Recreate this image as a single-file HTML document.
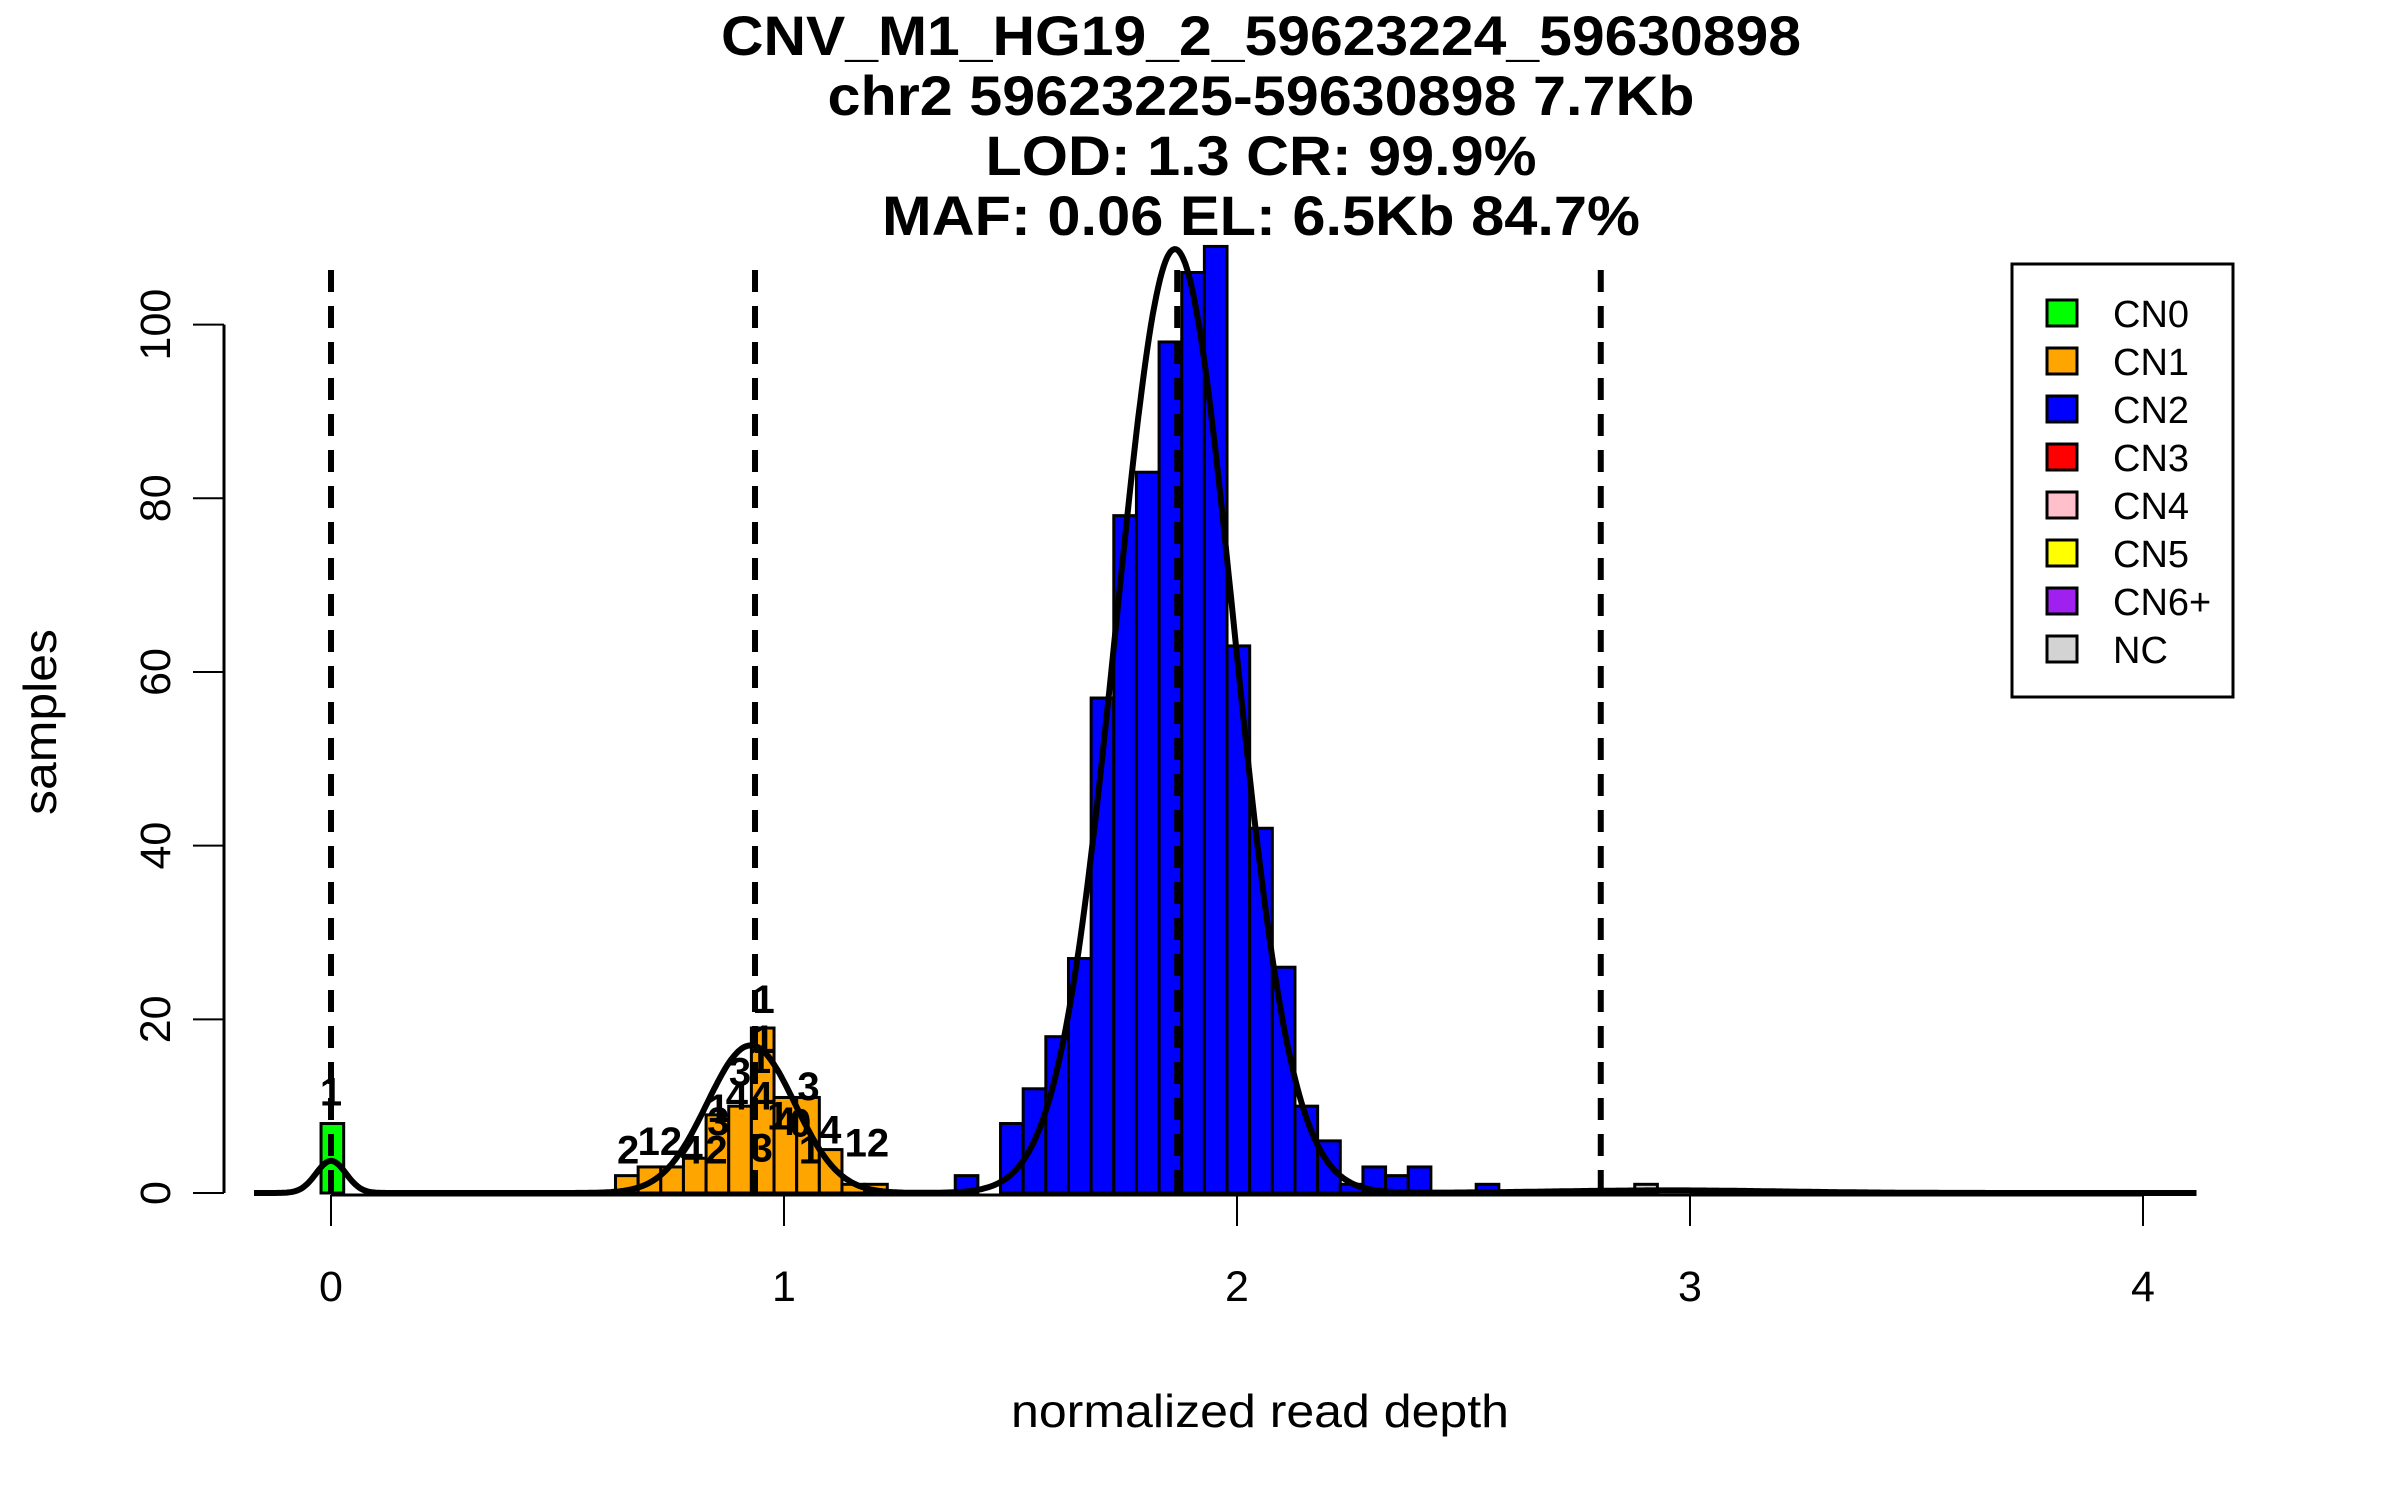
<!DOCTYPE html>
<html><head><meta charset="utf-8"><style>
html,body{margin:0;padding:0;background:#fff;}
svg{display:block;}
text{font-family:"Liberation Sans",sans-serif;}
</style></head>
<body>
<svg id="chart" xmlns="http://www.w3.org/2000/svg" width="2400" height="1500" viewBox="0 0 2400 1500">
<rect width="2400" height="1500" fill="#fff"/>
<g font-weight="bold" font-size="56" text-anchor="middle" fill="#000">
<text x="1261" y="55" textLength="1080" lengthAdjust="spacingAndGlyphs">CNV_M1_HG19_2_59623224_59630898</text>
<text x="1261" y="115" textLength="867" lengthAdjust="spacingAndGlyphs">chr2 59623225-59630898 7.7Kb</text>
<text x="1261" y="175" textLength="551" lengthAdjust="spacingAndGlyphs">LOD: 1.3 CR: 99.9%</text>
<text x="1261" y="235" textLength="758" lengthAdjust="spacingAndGlyphs">MAF: 0.06 EL: 6.5Kb 84.7%</text>
</g>
<g id="bars"></g>
<g id="labels" font-weight="bold" font-size="40" text-anchor="middle" fill="#000"></g>
<g id="curves"></g>
<g id="dashes"></g>
<g id="axes"></g>
<text x="1260" y="1427" font-size="46" text-anchor="middle" textLength="498" lengthAdjust="spacingAndGlyphs">normalized read depth</text>
<text x="0" y="0" font-size="46" text-anchor="middle" transform="translate(56,722) rotate(-90)" textLength="186" lengthAdjust="spacingAndGlyphs">samples</text>
<g id="legend">
<rect x="2012" y="264" width="221" height="433" fill="#fff" stroke="#000" stroke-width="3"/>
</g>
</svg>
<script>
// ---- data ----
const binOrigin = -0.022;
const binWidth = 0.05;
const cn0Counts = [8];
const cn0Start = 0;
const cn1Counts = [2,3,3,4,9,10,19,11,11,5,1,1];
const cn1Start = 13;
const cn2Counts = [2,0,8,12,18,27,57,78,83,98,106,109,63,42,26,10,6,1,3,2,3,0,0,1];
const cn2Start = 28;
const ncCounts = [1];
const ncStart = 58;
const curveMeans = [0, 0.927, 1.863, 2.95];
const curveSds = [0.033, 0.097, 0.129, 0.25];
const curvePeaks = [3.7, 17, 108.7, 0.3];
const cnMeans = [0, 0.936, 1.868, 2.803];
const xTicks = [0,1,2,3,4];
const yTicks = [0,20,40,60,80,100];
const legendLabels = ["CN0","CN1","CN2","CN3","CN4","CN5","CN6+","NC"];
const legendColors = ["#00ff00","#ffa500","#0000ff","#ff0000","#ffc0cb","#ffff00","#a020f0","#d3d3d3"];
const sampleLabels = ["2","12","4","2","3","1","3","1","1","4","4","1","3","1","4","0","3","4","1","12","1"];
const sampleLabelX = [0.656,0.726,0.796,0.851,0.855,0.855,0.903,0.947,0.955,0.896,0.951,0.955,0.951,0.987,1.002,1.036,1.054,1.102,1.057,1.183,0.0];
const sampleLabelY = [3.4,4.4,3.4,3.4,6.7,8.2,12.4,13.8,16.1,9.6,9.6,20.7,3.6,7.3,6.7,6.5,10.7,5.7,3.4,4.2,10.1];

// ---- scales ----
const xs = v => 331 + 453 * v;
const ys = n => 1193 - 8.684 * n;
const NS = "http://www.w3.org/2000/svg";
function mk(tag, attrs, parent){
  const e = document.createElementNS(NS, tag);
  for (const k in attrs) e.setAttribute(k, attrs[k]);
  parent.appendChild(e);
  return e;
}
// ---- bars ----
const barsG = document.getElementById('bars');
function drawBars(counts, start, color, group){
  counts.forEach((c, i) => {
    if (c <= 0) return;
    const x0 = xs(binOrigin + (start + i) * binWidth);
    const x1 = xs(binOrigin + (start + i + 1) * binWidth);
    const r = mk('rect', {x:x0, y:ys(c), width:x1-x0, height:ys(0)-ys(c), fill:color, stroke:'#000', 'stroke-width':3}, barsG);
    
    
  });
}
drawBars(cn0Counts, cn0Start, '#00ff00', 'cn0');
drawBars(cn1Counts, cn1Start, '#ffa500', 'cn1');
drawBars(cn2Counts, cn2Start, '#0000ff', 'cn2');
drawBars(ncCounts, ncStart, '#d3d3d3', 'nc');
// ---- sample labels ----
const labG = document.getElementById('labels');
sampleLabels.forEach((t, i) => {
  const e = mk('text', {x:xs(sampleLabelX[i]), y:ys(sampleLabelY[i])}, labG);
  e.textContent = t;
  
  
});
// ---- density curve ----
const curG = document.getElementById('curves');
let d = '';
for (let v = -0.17; v <= 4.12; v += 0.004) {
  let s = 0;
  for (let j = 0; j < curveMeans.length; j++) s += curvePeaks[j] * Math.exp(-0.5 * Math.pow((v - curveMeans[j]) / curveSds[j], 2));
  d += (d ? 'L' : 'M') + xs(v).toFixed(1) + ',' + ys(s).toFixed(1);
}
const cp = mk('path', {d:d, fill:'none', stroke:'#000', 'stroke-width':6, 'stroke-linejoin':'round'}, curG);


// ---- dashed CN lines ----
const dG = document.getElementById('dashes');
cnMeans.forEach(m => {
  const l = mk('line', {x1:xs(m), x2:xs(m), y1:270, y2:1195, stroke:'#000', 'stroke-width':6, 'stroke-dasharray':'22 14'}, dG);
  
  
});
// ---- axes ----
const aG = document.getElementById('axes');
const xl = mk('line', {x1:xs(xTicks[0]), x2:xs(xTicks[xTicks.length-1]), y1:1195, y2:1195, stroke:'#000', 'stroke-width':3}, aG);


xTicks.forEach(t => {
  const tk = mk('line', {x1:xs(t), x2:xs(t), y1:1195, y2:1226, stroke:'#000', 'stroke-width':2}, aG);
  
  
  const tx = mk('text', {x:xs(t), y:1301, 'font-size':43, 'text-anchor':'middle'}, aG);
  tx.textContent = t;
  
  
});
const yl = mk('line', {x1:224, x2:224, y1:ys(yTicks[0]), y2:ys(yTicks[yTicks.length-1]), stroke:'#000', 'stroke-width':3}, aG);


yTicks.forEach(t => {
  const tk = mk('line', {x1:193, x2:224, y1:ys(t), y2:ys(t), stroke:'#000', 'stroke-width':2}, aG);
  
  
  const tx = mk('text', {x:0, y:0, 'font-size':43, 'text-anchor':'middle', transform:'translate(170,' + ys(t) + ') rotate(-90)'}, aG);
  tx.textContent = t;
  
  
});
// ---- legend ----
const lG = document.getElementById('legend');
legendLabels.forEach((lab, i) => {
  const cy = 313 + i * 48;
  const sw = mk('rect', {x:2047, y:cy-13, width:30, height:26, fill:legendColors[i], stroke:'#000', 'stroke-width':3}, lG);
  
  
  const tx = mk('text', {x:2113, y:cy+14, 'font-size':38}, lG);
  tx.textContent = lab;
  
  
});
</script>
</body></html>
